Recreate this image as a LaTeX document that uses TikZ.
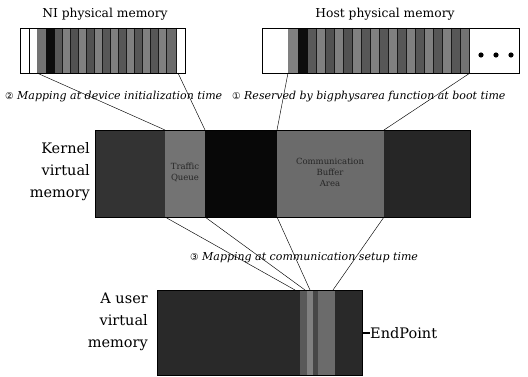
\documentclass[tikz,border=0pt]{standalone}
\usepackage{fontspec}
\setmainfont{DejaVu Serif}
\newfontfamily\symfont{DejaVu Sans}
\begin{document}
\begin{tikzpicture}[x=1pt,y=-1pt,
  frame/.style={draw=black, line width=0.8pt, fill=none, inner sep=0pt, anchor=north west},
  conn/.style={draw=black, line width=0.45pt},
  title/.style={font=\fontsize{12.3}{14}\selectfont, inner sep=0pt},
  captxt/.style={font=\fontsize{11}{13}\selectfont\itshape, inner sep=0pt, anchor=west},
  biglab/.style={font=\fontsize{14.5}{22}\selectfont, align=right, inner sep=0pt, anchor=east},
  faint/.style={font=\fontsize{8.5}{11}\selectfont, text=black!85, align=center, inner sep=0pt},
  sep/.style={draw=black!90, line width=1.2pt}]
\useasboundingbox (0,0) rectangle (528,377);
\fill[white] (0,0) rectangle (528,377);

% ---------- NI physical memory ----------
\fill[black!55] (37,28) rectangle (46,73);
\fill[black!95] (46,28) rectangle (55,73);
\foreach \xa/\xb/\g in {55/63/65,63/71/50,71/79/68,79/87/50,87/95/68,95/103/50,103/111/66,111/119/50,119/127/66,127/135/50,135/143/66,143/151/50,151/159/66,159/167/50,167/177/58}{
  \fill[black!\g] (\xa,28) rectangle (\xb,73);
  \draw[sep] (\xb-0.6,28) -- (\xb-0.6,73);
}
\node[frame, minimum width=165pt, minimum height=45pt] (ni) at (20,28) {};
\draw[line width=0.6pt] (29,28) -- (29,73);
\node[title] (nit) at (105,14) {NI physical memory};

% ---------- Host physical memory ----------
\fill[black!50] (288,28) rectangle (298,73);
\fill[black!95] (298,28) rectangle (308,73);
\foreach \xa/\xb/\g in {308/317/65,317/326/50,326/335/68,335/344/50,344/353/68,353/362/50,362/371/66,371/380/50,380/389/66,389/398/50,398/407/66,407/416/50,416/425/66,425/434/50,434/443/66,443/452/50,452/461/66,461/470/55}{
  \fill[black!\g] (\xa,28) rectangle (\xb,73);
  \draw[sep] (\xb-0.6,28) -- (\xb-0.6,73);
}
\node[frame, minimum width=257pt, minimum height=45pt] (host) at (262,28) {};
\fill (481,55) circle (2.6) (496,55) circle (2.6) (511,55) circle (2.6);
\node[title] (hostt) at (385,14) {Host physical memory};

% ---------- Kernel virtual memory ----------
\fill[black!80] (95,130) rectangle (165,217);
\fill[black!55] (165,130) rectangle (205,217);
\fill[black!97] (205,130) rectangle (277,217);
\fill[black!58] (277,130) rectangle (384,217);
\fill[black!85] (384,130) rectangle (470,217);
\node[frame, minimum width=375pt, minimum height=87pt] (kern) at (95,130) {};
\node[faint] (tq) at (185,172) {Traffic\\Queue};
\node[faint] (cba) at (330,172) {Communication\\Buffer\\Area};
\node[biglab] (kl) at (90,172) {Kernel\\virtual\\memory};

% ---------- User virtual memory ----------
\fill[black!84] (157,290) rectangle (362,375);
\fill[black!65] (300,290) rectangle (307,375);
\fill[black!50] (307,290) rectangle (313,375);
\fill[black!72] (313,290) rectangle (318,375);
\fill[black!58] (318,290) rectangle (335,375);
\node[frame, minimum width=205pt, minimum height=85pt] (user) at (157,290) {};
\node[biglab] (ul) at (148,322) {A user\\virtual\\memory};
\node[font=\fontsize{14.5}{16}\selectfont, inner sep=0pt, anchor=west] (ep) at (370,333) {EndPoint};
\draw[line width=2.2pt] (user.east |- ep.west) -- (ep.west);

% ---------- captions ----------
\node[captxt] (c2) at (5,97) {{\symfont\fontsize{9.5}{11}\selectfont ②} Mapping at device initialization time};
\node[captxt] (c1) at (232,97) {{\symfont\fontsize{9.5}{11}\selectfont ①} Reserved by bigphysarea function at boot time};
\node[captxt] (c3) at (190,258) {{\symfont\fontsize{9.5}{11}\selectfont ③} Mapping at communication setup time};

% ---------- connectors ----------
\coordinate (nia) at (37,73);
\coordinate (nib) at (178,73);
\coordinate (hoa) at (288,73);
\coordinate (hob) at (470,73);
\coordinate (kta) at (165,130);
\coordinate (ktb) at (205,130);
\coordinate (ktc) at (277,130);
\coordinate (ktd) at (384,130);
\coordinate (kba) at (165,217);
\coordinate (kbb) at (205,217);
\coordinate (kbc) at (277,217);
\coordinate (kbd) at (384,217);
\coordinate (ua) at (295,290);
\coordinate (ub) at (305,290);
\coordinate (uc) at (310,290);
\coordinate (ud) at (333,290);
\draw[conn] (nia) -- (kta);
\draw[conn] (nib) -- (ktb);
\draw[conn] (hoa) -- (ktc);
\draw[conn] (hob) -- (ktd);
\draw[conn] (kba) -- (ua);
\draw[conn] (kbb) -- (ub);
\draw[conn] (kbc) -- (uc);
\draw[conn] (kbd) -- (ud);
\end{tikzpicture}
\end{document}
